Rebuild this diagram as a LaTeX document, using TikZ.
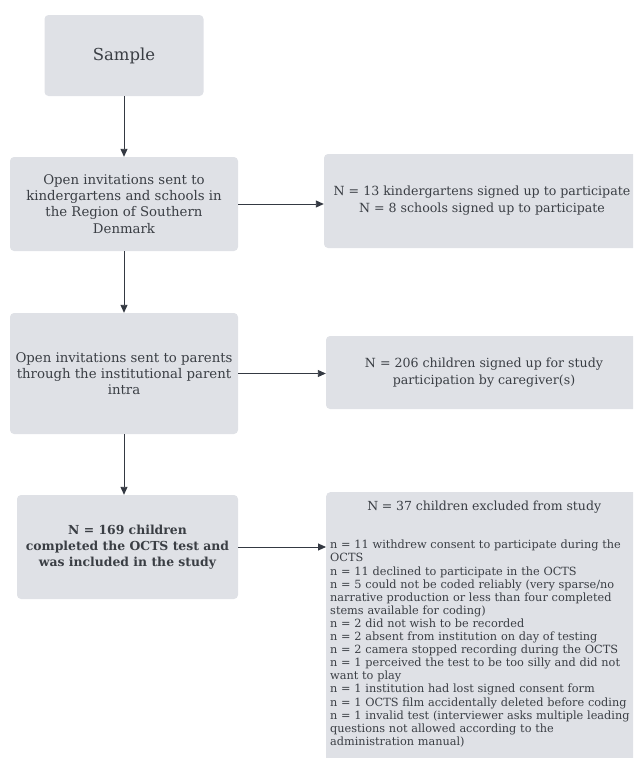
\documentclass[tikz,border=0pt]{standalone}
\usepackage{fontspec}
\setmainfont{DejaVu Serif}
\usepackage{tikz}
\usetikzlibrary{arrows.meta}
\definecolor{boxgrey}{RGB}{223,225,230}
\definecolor{textgrey}{RGB}{58,62,68}
\definecolor{linegrey}{RGB}{52,57,66}

\begin{document}
\begin{tikzpicture}[x=1pt,y=-1pt]
    \tikzstyle{box}   = [fill=boxgrey, rounded corners=4pt, text=textgrey,
                         align=center, inner sep=0pt,
                         font=\fontsize{13.3}{16.2}\selectfont]
    \tikzstyle{sidebox} = [box, minimum width=316pt, font=\fontsize{12.6}{17}\selectfont]
    \tikzstyle{dedge} = [line width=0.9pt,->,>={Triangle[length=8pt,width=7pt]},draw=linegrey]

    \clip (0,0) rectangle (633,758);

    % left column
    \node[box, minimum width=159pt, minimum height=81pt,
          font=\fontsize{16.5}{20}\selectfont] (sample) at (124,55.5) {Sample};
    \node[box, minimum width=228pt, minimum height=94pt] (inv) at (124,204)
      {Open invitations sent to\\ kindergartens and schools in\\ the Region of Southern\\ Denmark};
    \node[box, minimum width=228pt, minimum height=121pt] (parents) at (124,373.5)
      {Open invitations sent to parents\\ through the institutional parent\\ intra};
    \node[box, minimum width=221pt, minimum height=104pt,
          font=\fontsize{12.4}{16.2}\selectfont\bfseries] (result) at (127.5,547)
      {N = 169 children\\ completed the OCTS test and\\ was included in the study};

    % right column
    \node[sidebox, minimum height=94pt] (signed) at (482,201)
      {N = 13 kindergartens signed up to participate\\ N = 8 schools signed up to participate};
    \node[sidebox, minimum height=73pt] (caregiver) at (484,372.5)
      {N = 206 children signed up for study\\ participation by caregiver(s)};
    \node[box, anchor=north west, align=left, text width=340pt, inner xsep=4pt, inner ysep=9pt,
          font=\fontsize{11.3}{13.1}\selectfont] (excluded) at (326,492)
      {\makebox[308pt]{\fontsize{12.5}{16}\selectfont N = 37 children excluded from study}\\[25pt]
       n = 11 withdrew consent to participate during the\\ OCTS\\
       n = 11 declined to participate in the OCTS\\
       n = 5 could not be coded reliably (very sparse/no\\ narrative production or less than four completed\\ stems available for coding)\\
       n = 2 did not wish to be recorded\\
       n = 2 absent from institution on day of testing\\
       n = 2 camera stopped recording during the OCTS\\
       n = 1 perceived the test to be too silly and did not\\ want to play\\
       n = 1 institution had lost signed consent form\\
       n = 1 OCTS film accidentally deleted before coding\\
       n = 1 invalid test (interviewer asks multiple leading\\ questions not allowed according to the\\ administration manual)\par
       \vspace*{12pt}};

    \draw[dedge] (sample)--(inv);
    \draw[dedge] (inv)--(parents);
    \draw[dedge] (parents)--(parents |- result.north);
    \draw[dedge] (inv.east)--(inv.east -| signed.west);
    \draw[dedge] (parents)--(parents -| caregiver.west);
    \draw[dedge] (result)--(result -| excluded.west);
\end{tikzpicture}
\end{document}
